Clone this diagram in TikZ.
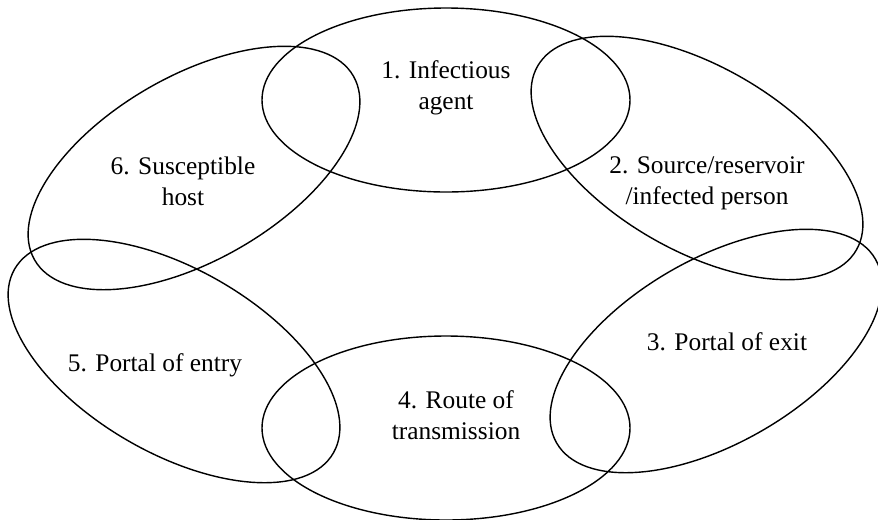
\documentclass[tikz,border=0pt]{standalone}
\usepackage{fontspec}
\setmainfont{Liberation Serif}
\usepackage{tikz}
\usetikzlibrary{positioning}

\begin{document}
\begin{tikzpicture}[
  ring/.style={black, line width=0.8pt},
  label/.style={align=center, font=\fontsize{14.45pt}{17.6pt}\selectfont, inner sep=0pt}]
  \useasboundingbox (0,0) rectangle (17.56,-10.38);
  \coordinate (A) at (8.92,-2.00);
  \coordinate (S) at (13.94,-3.16);
  \coordinate (X) at (14.32,-7.02);
  \coordinate (R) at (8.92,-8.56);
  \coordinate (E) at (3.48,-7.22);
  \coordinate (H) at (3.88,-3.36);
  \draw[ring] (A) ellipse (3.68 and 1.84);
  \draw[ring, rotate around={-30:(S)}] (S) ellipse (3.68 and 1.84);
  \draw[ring, rotate around={30:(X)}] (X) ellipse (3.68 and 1.84);
  \draw[ring] (R) ellipse (3.68 and 1.84);
  \draw[ring, rotate around={-30:(E)}] (E) ellipse (3.68 and 1.84);
  \draw[ring, rotate around={30:(H)}] (H) ellipse (3.68 and 1.84);
  \node[label] (agent) at (8.92,-1.76) {1. Infectious\\agent};
  \node[label] (source) at (14.14,-3.66) {2. Source/reservoir\\/infected person};
  \node[label] (exit) at (14.54,-6.84) {3. Portal of exit};
  \node[label] (route) at (9.12,-8.30) {4. Route of\\transmission};
  \node[label] (entry) at (3.10,-7.30) {5. Portal of entry};
  \node[label] (host) at (3.66,-3.62) {6. Susceptible\\host};
\end{tikzpicture}
\end{document}
